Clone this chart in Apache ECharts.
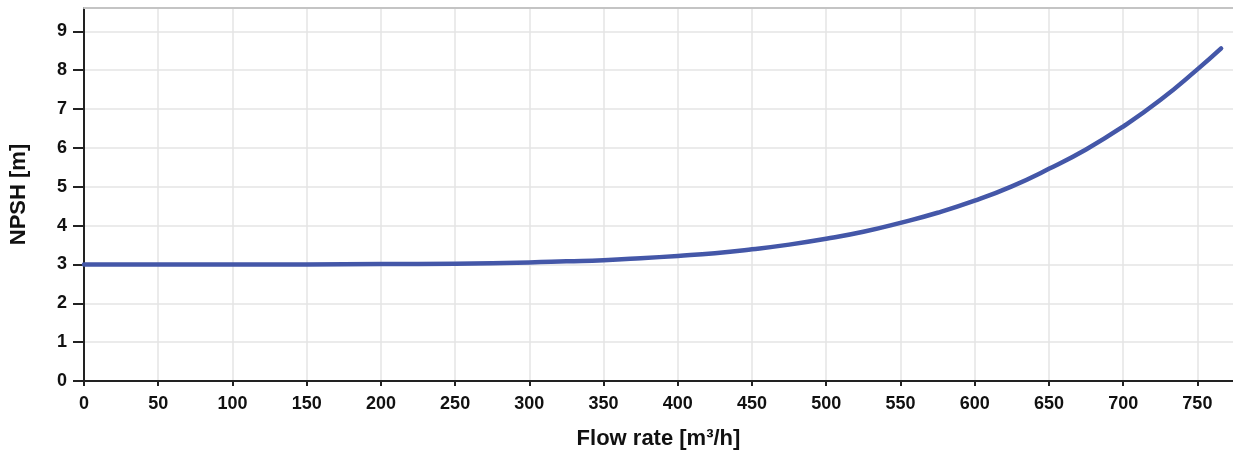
<!DOCTYPE html>
<html lang="en">
  <head>
    <meta charset="utf-8" />
    <title>NPSH curve</title>
    <script src="https://cdn.jsdelivr.net/npm/echarts@6/dist/echarts.min.js"></script>
    <style>
      html, body { margin: 0; padding: 0; background: #fff; }
      #chart { width: 1233px; height: 455px; }
    </style>
  </head>
  <body>
    <div id="chart"></div>
    <script>
      // values
      var flowRate = [0, 50, 100, 150, 200, 250, 300, 325, 350, 375, 400, 425, 450, 475, 500, 525, 550, 575, 600, 625, 650, 675, 700, 725, 750, 766]
      var npsh = [3.00, 3.00, 3.00, 3.00, 3.01, 3.02, 3.05, 3.08, 3.11, 3.16, 3.22, 3.29, 3.39, 3.51, 3.66, 3.84, 4.07, 4.33, 4.64, 5.01, 5.46, 5.96, 6.55, 7.23, 8.02, 8.56]
      var xTitle = 'Flow rate [m³/h]'
      var yTitle = 'NPSH [m]'

      var font = '"Liberation Sans", Arial, Helvetica, sans-serif'
      var chart = echarts.init(document.getElementById('chart'), null, { renderer: 'canvas' })

      var xMax = 774
      chart.setOption({
        animation: false,
        grid: { left: 84, top: 8, right: 0, bottom: 74 },
        xAxis: [{
          type: 'value',
          min: 0, max: xMax, interval: 50,
          name: xTitle,
          nameLocation: 'middle',
          nameGap: 47,
          nameTextStyle: { fontFamily: font, fontWeight: 'bold', fontSize: 22, color: '#111' },
          axisLine: { lineStyle: { color: '#222', width: 2 } },
          axisTick: { show: true, length: 5, lineStyle: { color: '#222', width: 2 } },
          axisLabel: { showMaxLabel: false, margin: 14, fontFamily: font, fontWeight: 'bold', fontSize: 18, color: '#111' },
          splitLine: { show: true, showMaxLine: false, lineStyle: { color: '#e4e4e4', width: 1.5 } }
        }, {
          // top frame line only
          type: 'value',
          position: 'top',
          min: 0, max: xMax,
          axisLine: { show: true, lineStyle: { color: '#c4c4c4', width: 2 } },
          axisTick: { show: false },
          axisLabel: { show: false },
          splitLine: { show: false }
        }],
        yAxis: {
          type: 'value',
          min: 0, max: 9.6, interval: 1,
          name: yTitle,
          nameLocation: 'middle',
          nameGap: 54,
          nameTextStyle: { fontFamily: font, fontWeight: 'bold', fontSize: 22, color: '#111' },
          axisLine: { show: true, lineStyle: { color: '#222', width: 2 } },
          axisTick: { show: true, length: 11, lineStyle: { color: '#222', width: 2 } },
          axisLabel: { showMaxLabel: false, margin: 17, fontFamily: font, fontWeight: 'bold', fontSize: 18, color: '#111' },
          splitLine: { show: true, showMaxLine: false, lineStyle: { color: '#e4e4e4', width: 1.5 } }
        },
        series: [{
          type: 'line',
          xAxisIndex: 0,
          data: flowRate.map(function (q, i) { return [q, npsh[i]] }),
          smooth: true,
          showSymbol: false,
          lineStyle: { color: '#4457a8', width: 4.5, cap: 'round', join: 'round' }
        }]
      })
    </script>
  </body>
</html>
